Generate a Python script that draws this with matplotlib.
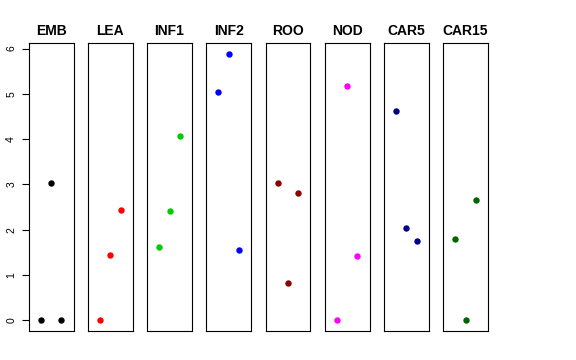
import matplotlib
matplotlib.use("Agg")
import matplotlib.pyplot as plt

plt.rcParams['font.family'] = ['Liberation Sans', 'DejaVu Sans']

panels = ["EMB", "LEA", "INF1", "INF2", "ROO", "NOD", "CAR5", "CAR15"]
colors = ["#000000", "#FF0000", "#00CD00", "#0000FF", "#8B0000", "#FF00FF", "#00008B", "#006400"]
values = [
    [0.0, 3.03, 0.0],
    [0.0, 1.45, 2.43],
    [1.62, 2.42, 4.07],
    [5.05, 5.88, 1.56],
    [3.04, 0.83, 2.82],
    [0.0, 5.18, 1.42],
    [4.62, 2.04, 1.76],
    [1.79, 0.0, 2.65],
]
positions = [1, 2, 3]
yticks = [0, 1, 2, 3, 4, 5, 6]

W, H = 576, 360
fig = plt.figure(figsize=(W / 100, H / 100), dpi=100)

left0 = 28.7
pw = 44.8
step = 59.2
top_px = 43.3
bot_px = 331.0

ymax = max(max(v) for v in values)
ymin = 0.0
pad = 0.04 * (ymax - ymin)

for i, (name, col, vals) in enumerate(zip(panels, colors, values)):
    l = left0 + i * step
    ax = fig.add_axes([l / W, 1 - bot_px / H, pw / W, (bot_px - top_px) / H])
    ax.plot(positions, vals, 'o', color=col, markersize=4.6, markeredgewidth=0)
    ax.set_xlim(-0.16, 4.16)
    ax.set_ylim(ymin - pad, ymax + pad)
    ax.set_xticks([])
    for s in ax.spines.values():
        s.set_linewidth(0.8)
        s.set_color('black')
    ax.set_title(name, fontsize=10, fontweight='bold', pad=6)
    if i == 0:
        ax.set_yticks(yticks)
        ax.set_yticklabels([str(t) for t in yticks], rotation=90, va='center', fontsize=7.5)
        ax.tick_params(axis='y', length=5, width=0.8, pad=4)
    else:
        ax.set_yticks([])

fig.savefig("out.png", dpi=100)
